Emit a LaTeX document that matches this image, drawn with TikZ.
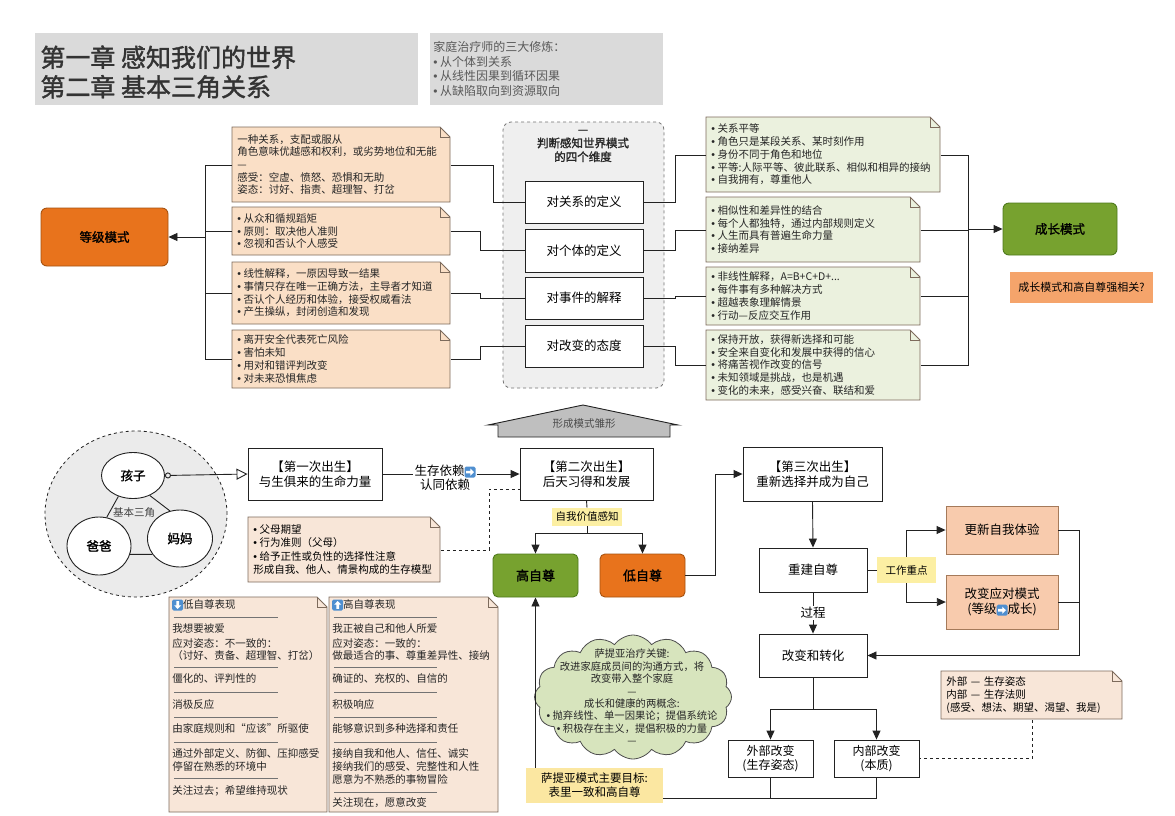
\documentclass[tikz,border=0pt]{standalone}
\usepackage{fontspec}
\setmainfont{Noto Sans CJK SC}
\newfontfamily\bfc{Noto Sans CJK SC}[FakeBold=1.5]
\newfontfamily\latf{Liberation Sans}
\usetikzlibrary{arrows.meta,shapes.geometric,shapes.symbols,calc}
\definecolor{ln}{HTML}{222222}
\definecolor{orangeM}{HTML}{E8731C}
\definecolor{orangeD}{HTML}{A65210}
\definecolor{greenM}{HTML}{77A22F}
\definecolor{greenD}{HTML}{4E7A1C}
\definecolor{onote}{HTML}{FADFC6}
\definecolor{notebr}{HTML}{7D6B5C}
\definecolor{gnote}{HTML}{EBF1DE}
\definecolor{pnote}{HTML}{F8E6D8}
\definecolor{peach}{HTML}{F8CBAD}
\definecolor{peachbr}{HTML}{A57A5A}
\definecolor{yel}{HTML}{FCEFA3}
\definecolor{goaly}{HTML}{FBE7A1}
\definecolor{cloudg}{HTML}{D7E4BD}
\definecolor{tgray}{HTML}{DADADA}
\definecolor{dgray}{HTML}{EFEFEF}
\definecolor{cgray}{HTML}{EBEBEB}
\definecolor{roof}{HTML}{BFBFBF}
\definecolor{qbox}{HTML}{F5A46B}
\definecolor{iconblue}{HTML}{4F8FD0}
\newcommand\bu{{\latf •}\hspace{2.5pt}}
\newcommand\icon[1]{\tikz[x=1pt,y=1pt,baseline=-3.6pt]{\fill[iconblue,rounded corners=1.5pt] (-5.5,-5.5) rectangle (5.5,5.5); \fill[white,rotate=#1] (-3.8,-1.3) -- (0.3,-1.3) -- (0.3,-3.6) -- (4,0) -- (0.3,3.6) -- (0.3,1.3) -- (-3.8,1.3) -- cycle;}}
\newcommand\rb[7]{\node[#6, minimum width={(#4-#2)*1pt}, minimum height={(#5-#3)*1pt}, anchor=center] (#1) at ({(#2+#4)/2},{(#3+#5)/2}) {#7};}
\newcommand\note[8]{%
  \path[draw=notebr,line width=0.8pt,fill=#6] (#2,#3) -- ({#4-10},#3) -- (#4,{#3+10}) -- (#4,#5) -- (#2,#5) -- cycle;
  \draw[notebr,line width=0.8pt] ({#4-10},#3) -- ({#4-10},{#3+10}) -- (#4,{#3+10});
  \node[inner sep=0pt, minimum width={(#4-#2)*1pt}, minimum height={(#5-#3)*1pt}, anchor=north west] (#1) at (#2,#3) {};
  \pgfmathsetmacro\notetw{#4-#2-9}%
  \node[anchor=west, inner sep=0pt, align=left, text width=\notetw pt, #7] (#1t) at ({#2+5},{(#3+#5)/2}) {#8};
}
\begin{document}
\begin{tikzpicture}[x=1pt,y=-1pt, line width=0.9pt,
  ntext/.style={font=\fontsize{10.5}{12.7}\selectfont, text=black!85},
  btext/.style={font=\fontsize{10.5}{12.7}\selectfont, text=black!85, inner sep=0pt},
  wbox/.style={draw=ln, fill=white, inner sep=2pt, align=center, font=\fontsize{12.5}{15.5}\selectfont},
  mode/.style={rounded corners=6pt, inner sep=2pt, font=\bfc\fontsize{12.5}{15}\selectfont},
  pbox/.style={draw=peachbr, fill=peach, inner sep=2pt, align=center, font=\fontsize{12.5}{15.5}\selectfont},
  ylab/.style={fill=yel, inner sep=2pt, font=\fontsize{10.5}{12}\selectfont},
  arr/.style={-{Triangle[length=9pt,width=8pt]}},
  conn/.style={draw=ln, line width=0.9pt}]
\fill[white] (0,0) rectangle (1175,815);
\useasboundingbox (0,0) rectangle (1175,815);

% ---------- title boxes
\rb{t1}{35}{33}{418}{105}{fill=tgray}{}
\node[anchor=west, align=left, inner sep=0pt, font=\bfc\fontsize{25}{29.5}\selectfont, text=black!80] (t1t) at (40,72) {第一章 感知我们的世界\\第二章 基本三角关系};
\rb{t2}{430}{33}{663}{105}{fill=tgray}{}
\node[anchor=west, align=left, inner sep=0pt, font=\fontsize{12}{14.6}\selectfont, text=black!65] (t2t) at (433,69) {家庭治疗师的三大修炼：\\\bu 从个体到关系\\\bu 从线性因果到循环因果\\\bu 从缺陷取向到资源取向};

% ---------- top section
\rb{dj}{41}{208}{168}{266}{mode, fill=orangeM, draw=orangeD}{等级模式}
\note{o1}{232}{127}{450}{202}{onote}{ntext}{一种关系，支配或服从\\角色意味优越感和权利，或劣势地位和无能\\—\\感受：空虚、愤怒、恐惧和无助\\姿态：讨好、指责、超理智、打岔}
\note{o2}{232}{207}{450}{255}{onote}{ntext}{\bu 从众和循规蹈矩\\\bu 原则：取决他人准则\\\bu 忽视和否认个人感受}
\note{o3}{232}{262}{450}{324}{onote}{ntext}{\bu 线性解释，一原因导致一结果\\\bu 事情只存在唯一正确方法，主导者才知道\\\bu 否认个人经历和体验，接受权威看法\\\bu 产生操纵，封闭创造和发现}
\note{o4}{232}{330}{450}{388}{onote}{ntext}{\bu 离开安全代表死亡风险\\\bu 害怕未知\\\bu 用对和错评判改变\\\bu 对未来恐惧焦虑}

\rb{dim}{503}{122}{664}{388}{draw=black!55, dashed, fill=dgray, rounded corners=8pt, line width=0.8pt}{}
\node[align=center, font=\bfc\fontsize{11.5}{13.8}\selectfont, text=black!85] (dimt) at (583,146) {—\\判断感知世界模式\\的四个维度};
\rb{d1}{525}{181}{643}{223}{wbox}{对关系的定义}
\rb{d2}{525}{229}{643}{272}{wbox}{对个体的定义}
\rb{d3}{525}{277}{643}{319}{wbox}{对事件的解释}
\rb{d4}{525}{325}{643}{367}{wbox}{对改变的态度}

\note{g1}{706}{117}{940}{192}{gnote}{ntext}{\bu 关系平等\\\bu 角色只是某段关系、某时刻作用\\\bu 身份不同于角色和地位\\\bu 平等:人际平等、彼此联系、相似和相异的接纳\\\bu 自我拥有，尊重他人}
\note{g2}{706}{197}{920}{262}{gnote}{ntext}{\bu 相似性和差异性的结合\\\bu 每个人都独特，通过内部规则定义\\\bu 人生而具有普遍生命力量\\\bu 接纳差异}
\note{g3}{706}{267}{920}{325}{gnote}{ntext}{\bu 非线性解释，A=B+C+D+...\\\bu 每件事有多种解决方式\\\bu 超越表象理解情景\\\bu 行动—反应交互作用}
\note{g4}{706}{330}{920}{400}{gnote}{ntext}{\bu 保持开放，获得新选择和可能\\\bu 安全来自变化和发展中获得的信心\\\bu 将痛苦视作改变的信号\\\bu 未知领域是挑战，也是机遇\\\bu 变化的未来，感受兴奋、联结和爱}

\rb{cz}{1003}{203}{1117}{255}{mode, fill=greenM, draw=greenD}{成长模式}
\rb{qq}{1010}{272}{1153}{303}{fill=qbox, inner sep=0pt, font=\fontsize{11}{13}\selectfont}{成长模式和高自尊强相关?}

% connectors top
\coordinate (lbus) at (205,0);
\draw[conn] (o1.west) -- (o1.west -| lbus) -- (o4.west -| lbus) -- (o4.west);
\draw[conn] (o2.west) -- (o2.west -| lbus);
\draw[conn] (o3.west) -- (o3.west -| lbus);
\draw[conn, arr] (dj.east -| lbus) -- (dj.east);
\draw[conn] (o1.east) -- ++(43,0) |- (d1.west);
\draw[conn] (o2.east) -- ++(30,0) |- (d2.west);
\draw[conn] (o3.east) -- ++(30,0) |- (d3.west);
\draw[conn] (o4.east) -- ++(30,0) |- (d4.west);
\draw[conn] (d1.east) -- ++(32,0) |- (g1.west);
\draw[conn] (d2.east) -- ++(32,0) |- (g2.west);
\draw[conn] (d3.east) -- ++(32,0) |- (g3.west);
\draw[conn] (d4.east) -- ++(32,0) |- (g4.west);
\coordinate (rbus) at (968,0);
\draw[conn] (g1.east) -- (g1.east -| rbus) -- (g4.east -| rbus) -- (g4.east);
\draw[conn] (g2.east) -- (g2.east -| rbus);
\draw[conn] (g3.east) -- (g3.east -| rbus);
\draw[conn, arr] (cz.west -| rbus) -- (cz.west);

% roof
\path[draw=ln, fill=roof, line width=0.9pt] (498,437) -- (498,425) -- (488,425) -- (583,405) -- (678,425) -- (670,425) -- (670,437) -- cycle;
\node[font=\fontsize{10.5}{12}\selectfont, text=black!70] (fm) at (584,424) {形成模式雏形};

% ---------- basic triangle
\node[ellipse, draw=ln, dashed, fill=cgray, minimum width=182pt, minimum height=166pt, line width=0.8pt] (tri) at (136,514) {};
\node[ellipse, draw=ln, fill=white, minimum width=63pt, minimum height=46pt, inner sep=0pt, font=\bfc\fontsize{12.5}{14}\selectfont] (kid) at (133,475.5) {孩子};
\node[ellipse, draw=ln, fill=white, minimum width=64pt, minimum height=58pt, inner sep=0pt, font=\bfc\fontsize{12.5}{14}\selectfont] (dad) at (99,546) {爸爸};
\node[ellipse, draw=ln, fill=white, minimum width=65pt, minimum height=57pt, inner sep=0pt, font=\bfc\fontsize{12.5}{14}\selectfont] (mom) at (180,538.5) {妈妈};
\draw[conn] (kid.235) -- (dad.75);
\draw[conn] (kid.310) -- (mom.110);
\draw[conn] (dad.-15) -- (mom.210);
\node[font=\fontsize{10.5}{12}\selectfont, text=black!75] (trl) at (134,513) {基本三角};

% ---------- births
\rb{b1}{248}{448}{382}{500}{wbox}{【第一次出生】\\与生俱来的生命力量}
\draw[conn, {Circle[open,length=6pt]}-{Triangle[open,length=11pt,width=11pt]}] (kid.east) -- (b1.west);
\node[align=center, inner sep=1pt, font=\fontsize{12.5}{14}\selectfont] (dep) at (445,478) {生存依赖\icon{0}\\认同依赖};
\rb{b2}{520}{448}{653}{500}{wbox}{【第二次出生】\\后天习得和发展}
\draw[conn] (b1.east) -- (b1.east -| dep.west);
\draw[conn, arr] (b2.west -| dep.east) -- (b2.west);
\note{pn}{248}{517}{440}{582}{pnote}{font=\fontsize{10.5}{13.3}\selectfont}{\bu 父母期望\\\bu 行为准则（父母）\\\bu 给予正性或负性的选择性注意\\形成自我、他人、情景构成的生存模型}
\draw[conn, dashed, line width=0.8pt] (pn.east) -- ++(48,0) |- ($(b2.west)+(0,15)$);

\rb{sw}{552}{508}{622}{526}{ylab}{自我价值感知}
\rb{hi}{493}{554}{578}{597}{mode, fill=greenM, draw=greenD, rounded corners=5pt, font=\bfc\fontsize{13}{15}\selectfont}{高自尊}
\rb{lo}{600}{554}{685}{597}{mode, fill=orangeM, draw=orangeD, rounded corners=5pt, font=\bfc\fontsize{13}{15}\selectfont}{低自尊}
\draw[conn] (b2.south) -- (sw.north);
\draw[conn] (sw.south) -- ++(0,7) coordinate (swj);
\draw[conn, arr] (swj) -| (hi.north);
\draw[conn, arr] (swj) -| (lo.north);

\rb{b3}{743}{447}{882}{501}{wbox}{【第三次出生】\\重新选择并成为自己}
\draw[conn, arr] (lo.east) -- ++(30,0) |- (b3.west);
\rb{rj}{759}{548}{867}{592}{wbox}{重建自尊}
\draw[conn, arr] (b3.south) -- (rj.north);
\rb{up}{946}{506}{1058}{554}{pbox}{更新自我体验}
\rb{cm}{946}{575}{1058}{629}{pbox}{改变应对模式\\(等级\icon{0}成长)}
\draw[conn, arr] (906.5,570) |- (up.west);
\draw[conn, arr] (906.5,570) |- (cm.west);
\rb{wk}{877}{557}{936}{583}{ylab}{工作重点}
\draw[conn] (rj.east) -- (wk.west);
\rb{ct}{759}{634}{867}{677}{wbox}{改变和转化}
\draw[conn, arr] (rj.south) -- (ct.north) node[midway, fill=white, inner sep=1.5pt, font=\fontsize{12.5}{14}\selectfont] (gc) {过程};
\draw[conn] (up.east) -- ++(21,0) coordinate (rb1);
\draw[conn] (cm.east) -- ++(21,0);
\draw[conn, arr] (rb1) |- (ct.east);

\rb{ex}{728}{740}{813}{777}{wbox, font=\fontsize{12}{14.5}\selectfont}{外部改变\\(生存姿态)}
\rb{in}{834}{740}{919}{777}{wbox, font=\fontsize{12}{14.5}\selectfont}{内部改变\\(本质)}
\draw[conn] (ct.south) -- ++(0,32) coordinate (cj);
\draw[conn, arr] (cj) -| (ex.north);
\draw[conn, arr] (cj) -| (in.north);
\note{xn}{941}{671}{1122}{719}{pnote}{font=\fontsize{10.5}{13.3}\selectfont}{外部 — 生存姿态\\内部 — 生存法则\\(感受、想法、期望、渴望、我是)}
\draw[conn, dashed, line width=0.8pt] (xn.south) |- (in.east);

% ---------- cloud and goal
\node[cloud, cloud puffs=16, cloud puff arc=110, cloud ignores aspect, draw=ln!80, fill=cloudg, minimum width=197pt, minimum height=124pt, inner sep=0pt, line width=0.8pt] (cl) at (633,697) {};
\node[align=center, inner sep=0pt, font=\fontsize{10.3}{12.4}\selectfont, text=black!85] (clt) at (632,697) {萨提亚治疗关键:\\改进家庭成员间的沟通方式，将\\改变带入整个家庭\\—\\成长和健康的两概念:\\\bu 抛弃线性、单一因果论；提倡系统论\\\bu 积极存在主义，提倡积极的力量\\—};
\rb{goal}{526}{768}{663}{803}{fill=goaly, align=center, font=\fontsize{11.5}{14}\selectfont}{萨提亚模式主要目标:\\表里一致和高自尊}
\draw[conn, arr] (goal.north -| hi.south) -- (hi.south);
\coordinate (bl) at ($(goal.south east)+(0,-5)$);
\draw[conn] (in.south) -- (in.south |- bl) -- (bl);
\draw[conn] (ex.south) -- (ex.south |- bl);

% ---------- self-esteem notes
\note{lsn}{169}{597}{327}{812}{pnote}{ntext}{}
\note{hsn}{329}{597}{498}{812}{pnote}{ntext}{}
\node[anchor=west, btext] (lsh) at (172,605) {\icon{-90}低自尊表现};
\node[anchor=west, btext] (hsh) at (332,605) {\icon{90}高自尊表现};
\foreach \yy/\txt [count=\i] in {629/{我想要被爱},643/{应对姿态：不一致的：},655/{（讨好、责备、超理智、打岔）},679/{僵化的、评判性的},704/{消极反应},728/{由家庭规则和“应该”所驱使},753/{通过外部定义、防御、压抑感受},766/{停留在熟悉的环境中},791/{关注过去；希望维持现状}}
  \node[anchor=west, btext] (lsl\i) at (172,\yy) {\txt};
\foreach \yy/\txt [count=\i] in {629/{我正被自己和他人所爱},643/{应对姿态：一致的：},655/{做最适合的事、尊重差异性、接纳},679/{确证的、充权的、自信的},704/{积极响应},728/{能够意识到多种选择和责任},753/{接纳自我和他人、信任、诚实},766/{接纳我们的感受、完整性和人性},779/{愿意为不熟悉的事物冒险},803/{关注现在，愿意改变}}
  \node[anchor=west, btext] (hsl\i) at (332,\yy) {\txt};
\foreach \yy in {617,667,692,717,742,778}
  \draw[black!55, line width=0.8pt] (174,\yy) -- (278,\yy);
\foreach \yy in {617,667,692,717,742,792}
  \draw[black!55, line width=0.8pt] (334,\yy) -- (437,\yy);
\end{tikzpicture}
\end{document}
